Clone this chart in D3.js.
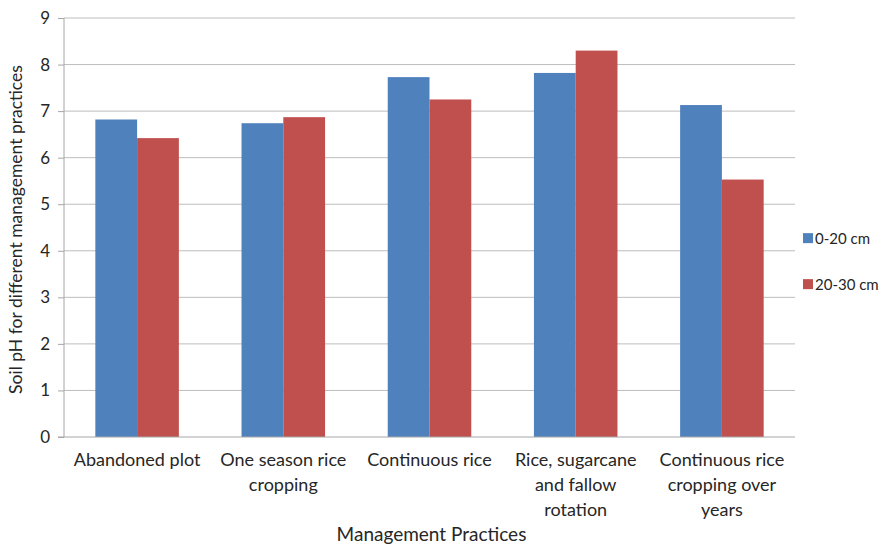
<!DOCTYPE html>
<meta charset="utf-8">
<script src="https://d3js.org/d3.v7.min.js"></script>
<style>
  body { margin: 0; background: #fff; }
  text { font-family: Lato, "Open Sans", sans-serif; fill: #262626; }
</style>
<div id="my_dataviz"></div>
<script>
  // categories, series and ticks
  var categories = [
    ["Abandoned plot"],
    ["One season rice", "cropping"],
    ["Continuous rice"],
    ["Rice, sugarcane", "and fallow", "rotation"],
    ["Continuous rice", "cropping over", "years"]
  ];
  var seriesNames = ["0-20 cm", "20-30 cm"];
  var shallow = [6.82, 6.74, 7.73, 7.82, 7.13];
  var deep = [6.42, 6.87, 7.25, 8.30, 5.53];
  var yTicks = [0, 1, 2, 3, 4, 5, 6, 7, 8, 9];
  var colors = ["#4f81bd", "#c0504d"];

  var margin = { top: 18, right: 98, bottom: 107, left: 64 },
    width = 893 - margin.left - margin.right,
    height = 544 - margin.top - margin.bottom;

  var svg = d3.select("#my_dataviz").append("svg")
    .attr("width", 893).attr("height", 544)
    .append("g")
    .attr("transform", "translate(" + margin.left + "," + margin.top + ")");

  var x = d3.scaleBand().domain(d3.range(categories.length)).range([0, width]).paddingInner(0).paddingOuter(0);
  var y = d3.scaleLinear().domain([0, 9]).range([height, 0]);

  // bar width like excel gap width 150%
  var barW = x.bandwidth() / 3.5;
  var x1 = d3.scaleBand().domain([0, 1]).range([(x.bandwidth() - 2 * barW) / 2, (x.bandwidth() + 2 * barW) / 2]);

  // gridlines
  svg.append("g").selectAll("line").data(yTicks.slice(1)).enter().append("line")
    .attr("x1", 0).attr("x2", width)
    .attr("y1", function(d) { return y(d); }).attr("y2", function(d) { return y(d); })
    .attr("stroke", "#bdbdbd").attr("stroke-width", 1);

  // y axis
  var yAxis = svg.append("g").call(d3.axisLeft(y).tickValues(yTicks).tickSize(6).tickPadding(8).tickFormat(d3.format("d")));
  yAxis.select(".domain").attr("stroke", "#a6a6a6").attr("d", "M0," + height + "V0");
  yAxis.selectAll(".tick line").attr("stroke", "#a6a6a6");
  yAxis.selectAll("text").style("font-size", "17px").style("fill", "#262626").style("font-family", "Lato, sans-serif");

  // bars
  var data = categories.map(function(c, i) { return [shallow[i], deep[i]]; });
  var groups = svg.append("g").selectAll("g").data(data).enter().append("g")
    .attr("transform", function(d, i) { return "translate(" + x(i) + ",0)"; });
  groups.selectAll("rect").data(function(d) { return d; }).enter().append("rect")
    .attr("x", function(d, j) { return x1(j); })
    .attr("y", function(d) { return y(d); })
    .attr("width", x1.bandwidth())
    .attr("height", function(d) { return height - y(d); })
    .attr("fill", function(d, j) { return colors[j]; });

  // x axis line
  svg.append("line").attr("x1", -6).attr("x2", width).attr("y1", height).attr("y2", height)
    .attr("stroke", "#a6a6a6");

  // category labels
  var lab = svg.append("g").selectAll("text").data(categories).enter().append("text")
    .attr("text-anchor", "middle")
    .attr("transform", function(d, i) { return "translate(" + (x(i) + x.bandwidth() / 2) + "," + (height + 29) + ")"; })
    .style("font-size", "18px");
  lab.selectAll("tspan").data(function(d) { return d; }).enter().append("tspan")
    .attr("x", 0).attr("dy", function(d, k) { return k === 0 ? 0 : 25; })
    .text(function(d) { return d; });

  // axis titles
  svg.append("text").attr("x", width / 2 + 2).attr("y", height + 104)
    .attr("text-anchor", "middle").style("font-size", "19px").text("Management Practices");
  svg.append("text").attr("transform", "translate(-42," + (height / 2 + 2) + ") rotate(-90)")
    .attr("text-anchor", "middle").style("font-size", "17.5px")
    .text("Soil pH for different management practices");

  // legend
  var legend = svg.append("g").attr("transform", "translate(" + (width + 8) + "," + (y(4.25)) + ")");
  seriesNames.forEach(function(name, j) {
    var row = legend.append("g").attr("transform", "translate(0," + (j * 46) + ")");
    row.append("rect").attr("x", 0).attr("y", -6).attr("width", 10).attr("height", 10).attr("fill", colors[j]);
    row.append("text").attr("x", 12).attr("y", 5).style("font-size", "15px").text(name);
  });
</script>
